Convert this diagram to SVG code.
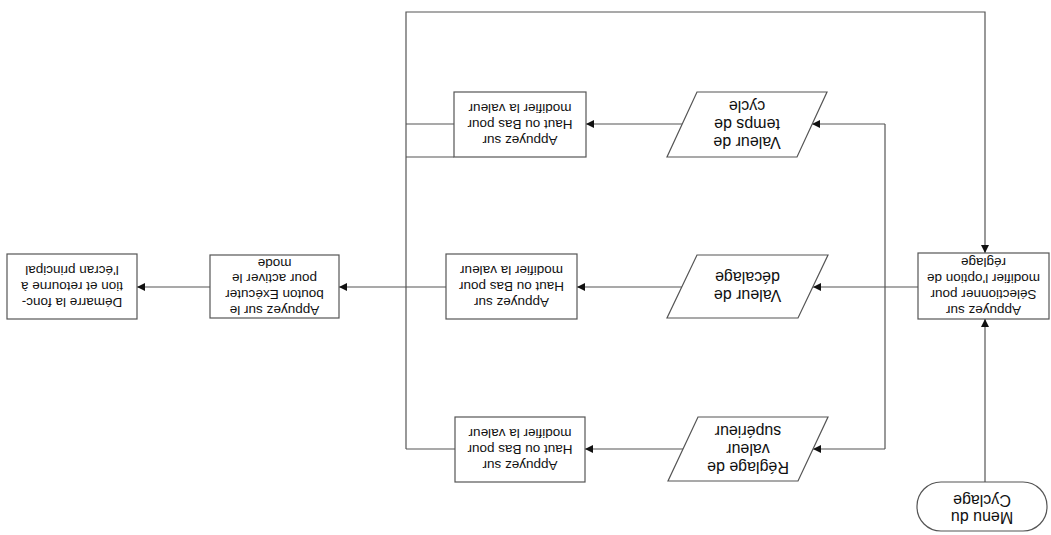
<svg xmlns="http://www.w3.org/2000/svg" width="1051" height="535" viewBox="0 0 1051 535">
<style>
.s{fill:#fff;stroke:#555;stroke-width:1.2}
.c{fill:none;stroke:#555;stroke-width:1.2}
text{font-family:"Liberation Sans",Arial,sans-serif;font-size:13.5px;fill:#111;text-anchor:middle}
.big{font-size:16px}
</style>
<defs>
<marker id="a" viewBox="0 0 10 10" refX="10" refY="5" markerWidth="8" markerHeight="8" markerUnits="userSpaceOnUse" orient="auto"><path d="M0,0 L10,5 L0,10 z" fill="#111"/></marker>
</defs>
<rect width="1051" height="535" fill="#fff"/>
<g transform="rotate(180 525.5 267.5)">
<g id="connectors">
<path class="c" d="M66,53 V216" marker-end="url(#a)"/>
<path class="c" d="M645,86 V523 H66 V282" marker-end="url(#a)"/>
<path class="c" d="M133,248 H166"/>
<path class="c" d="M166,86 V411"/>
<path class="c" d="M166,411 H239" marker-end="url(#a)"/>
<path class="c" d="M166,248 H238" marker-end="url(#a)"/>
<path class="c" d="M166,86 H238" marker-end="url(#a)"/>
<path class="c" d="M369,411 H465" marker-end="url(#a)"/>
<path class="c" d="M369,248 H474" marker-end="url(#a)"/>
<path class="c" d="M368,86 H466" marker-end="url(#a)"/>
<path class="c" d="M597,411 H645"/>
<path class="c" d="M597,378 H645"/>
<path class="c" d="M596,86 H645"/>
<path class="c" d="M605,248 H712" marker-end="url(#a)"/>
<path class="c" d="M841,248 H914" marker-end="url(#a)"/>
</g>
<g id="menu">
<rect class="s" x="4" y="4" width="130" height="49" rx="24" ry="24"/>
<text class="big" x="69" y="23.5">Menu du</text>
<text class="big" x="69" y="40.5">Cyclage</text>
</g>
<g id="select">
<rect class="s" x="2" y="216" width="131" height="66"/>
<text x="67.5" y="229.5">Appuyez sur</text>
<text x="67.5" y="245.5">Sélectionner pour</text>
<text x="67.5" y="261.5">modifier l'option de</text>
<text x="67.5" y="277">réglage</text>
</g>
<g id="p-cycle">
<polygon class="s" points="254,378 384,378 354,443 224,443"/>
<text class="big" x="304" y="398">Valeur de</text>
<text class="big" x="304" y="416">temps de</text>
<text class="big" x="304" y="434">cycle</text>
</g>
<g id="p-decalage">
<polygon class="s" points="253,217 384,217 354,280 223,280"/>
<text class="big" x="303.5" y="245">Valeur de</text>
<text class="big" x="303.5" y="263">décalage</text>
</g>
<g id="p-superieur">
<polygon class="s" points="253,54 383,54 353,118 223,118"/>
<text class="big" x="303" y="73.5">Réglage de</text>
<text class="big" x="303" y="91.5">valeur</text>
<text class="big" x="303" y="109.5">supérieur</text>
</g>
<g id="r-cycle">
<rect class="s" x="465" y="378" width="132" height="65"/>
<text x="531" y="399">Appuyez sur</text>
<text x="531" y="415">Haut ou Bas pour</text>
<text x="531" y="431">modifier la valeur</text>
</g>
<g id="r-decalage">
<rect class="s" x="474" y="216" width="131" height="65"/>
<text x="539.5" y="237">Appuyez sur</text>
<text x="539.5" y="253">Haut ou Bas pour</text>
<text x="539.5" y="269">modifier la valeur</text>
</g>
<g id="r-superieur">
<rect class="s" x="466" y="53" width="130" height="65"/>
<text x="531" y="74">Appuyez sur</text>
<text x="531" y="90">Haut ou Bas pour</text>
<text x="531" y="106">modifier la valeur</text>
</g>
<g id="executer">
<rect class="s" x="712" y="217" width="129" height="63"/>
<text x="776.5" y="229">Appuyez sur le</text>
<text x="776.5" y="245">bouton Exécuter</text>
<text x="776.5" y="261">pour activer le</text>
<text x="776.5" y="276.5">mode</text>
</g>
<g id="demarre">
<rect class="s" x="914" y="216" width="130" height="65"/>
<text x="979" y="237">Démarre la fonc-</text>
<text x="979" y="253">tion et retourne à</text>
<text x="979" y="269">l'écran principal</text>
</g>
</g>
</svg>
